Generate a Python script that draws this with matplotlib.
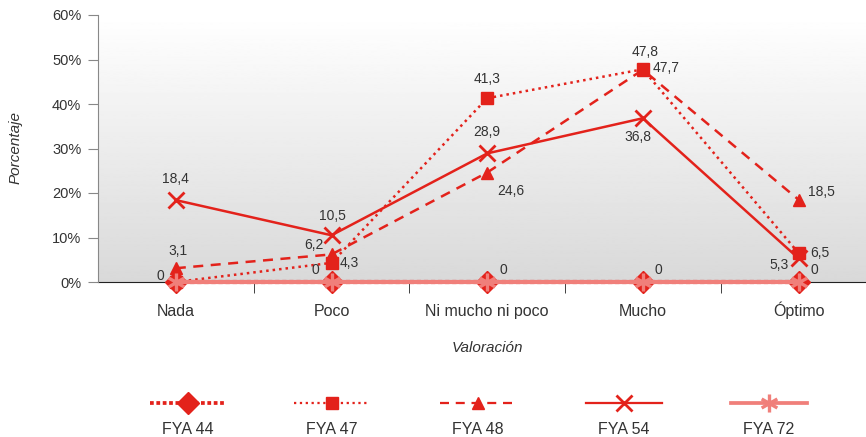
import numpy as np
import matplotlib
matplotlib.use("Agg")
import matplotlib.pyplot as plt
from matplotlib.lines import Line2D
from matplotlib.path import Path

plt.rcParams["font.family"] = ["Liberation Sans", "DejaVu Sans"]

categories = ["Nada", "Poco", "Ni mucho ni poco", "Mucho", "Óptimo"]
fya44 = [0, 0, 0, 0, 0]
fya47 = [0, 4.3, 41.3, 47.8, 6.5]
fya48 = [3.1, 6.2, 24.6, 47.7, 18.5]
fya54 = [18.4, 10.5, 28.9, 36.8, 5.3]
fya72 = [0, 0, 0, 0, 0]
series_names = ["FYA 44", "FYA 47", "FYA 48", "FYA 54", "FYA 72"]

RED = "#e3221b"
PINK = "#f07f7a"
TXT = "#333333"

# six-armed asterisk marker
ang = np.deg2rad([90, 30, 150])
verts, codes = [], []
for a in ang:
    verts += [(np.cos(a), np.sin(a)), (-np.cos(a), -np.sin(a))]
    codes += [Path.MOVETO, Path.LINETO]
ASTER = Path(verts, codes)

fig = plt.figure(figsize=(8.66, 4.37), dpi=100)
ax = fig.add_axes([98 / 866, 1 - 282 / 437, 1 - 98 / 866 + 0.012, (282 - 15) / 437])

x = np.arange(len(categories))

# gradient background
grad = np.linspace(0.85, 1.0, 256).reshape(-1, 1)
ax.imshow(grad, cmap="gray", vmin=0, vmax=1, aspect="auto", extent=[0, 1, 0, 1],
          transform=ax.transAxes, origin="lower", zorder=0)

styles = {
    "FYA 44": dict(color=RED, lw=3, ls=(0, (1, 0.7)), marker="D", ms=11),
    "FYA 47": dict(color=RED, lw=1.8, ls=(0, (1, 1.6)), marker="s", ms=8),
    "FYA 48": dict(color=RED, lw=1.8, ls=(0, (4, 3)), marker="^", ms=9),
    "FYA 54": dict(color=RED, lw=1.8, ls="-", marker="x", ms=11, mew=2),
    "FYA 72": dict(color=PINK, lw=3, ls="-", marker=ASTER, ms=13, mew=2.4),
}
data = {"FYA 44": fya44, "FYA 47": fya47, "FYA 48": fya48, "FYA 54": fya54, "FYA 72": fya72}

for i, name in enumerate(series_names):
    ax.plot(x, data[name], zorder=3 + i, clip_on=False, **styles[name])

# data labels: (series, index, dx px, dy px, ha, va)
labels = [
    (fya54, 0, 0, 14, "center", "bottom"),
    (fya48, 0, 2, 10, "center", "bottom"),
    (fya44, 0, -12, 6, "right", "center"),
    (fya54, 1, 1, 12, "center", "bottom"),
    (fya48, 1, -8, 9, "right", "center"),
    (fya44, 1, -12, 12, "right", "center"),
    (fya47, 1, 8, 0, "left", "center"),
    (fya54, 2, 0, 14, "center", "bottom"),
    (fya48, 2, 10, -18, "left", "center"),
    (fya47, 2, 0, 12, "center", "bottom"),
    (fya44, 2, 12, 12, "left", "center"),
    (fya47, 3, 2, 10, "center", "bottom"),
    (fya48, 3, 10, 2, "left", "center"),
    (fya54, 3, -5, -12, "center", "top"),
    (fya44, 3, 12, 12, "left", "center"),
    (fya48, 4, 9, 8, "left", "center"),
    (fya47, 4, 12, 0, "left", "center"),
    (fya54, 4, -10, -7, "right", "center"),
    (fya44, 4, 12, 12, "left", "center"),
]
for vals, i, dx, dy, ha, va in labels:
    txt = f"{vals[i]:g}".replace(".", ",")
    ax.annotate(txt, (x[i], vals[i]), xytext=(dx * 0.72, dy * 0.72), textcoords="offset points",
                ha=ha, va=va, fontsize=10, color=TXT, zorder=10)

ax.set_xlim(-0.5, 4.5)
ax.set_ylim(0, 60)
ax.set_yticks(range(0, 61, 10))
ax.set_yticklabels([f"{v}%" for v in range(0, 61, 10)])
ax.set_xticks(x)
ax.set_xticklabels(categories, va="baseline")
ax.set_xticks(x[:-1] + 0.5, minor=True)
ax.tick_params(axis="x", which="major", length=0, pad=24.5, labelsize=11.5, labelcolor=TXT)
ax.tick_params(axis="x", which="minor", length=8, color="#222222", direction="out")
ax.tick_params(axis="y", length=7, color="#888888", labelsize=10.5, labelcolor=TXT, pad=5)

for s in ["top", "right"]:
    ax.spines[s].set_visible(False)
ax.spines["left"].set_color("#888888")
ax.spines["bottom"].set_color("#222222")
ax.spines["bottom"].set_zorder(2)

ax.set_xlabel("Valoración", fontstyle="italic", fontsize=11, color=TXT, labelpad=16)
fig.text(16 / 866, 1 - 148 / 437, "Porcentaje", rotation=90, fontstyle="italic",
         fontsize=11, color=TXT, ha="center", va="center")

# legend below, handle above text
centers = [188, 332, 478, 624, 769]
for name, cx in zip(series_names, centers):
    st = dict(styles[name])
    ln = Line2D([(cx - 38) / 866, (cx + 38) / 866], [1 - 403 / 437] * 2,
                transform=fig.transFigure, color=st["color"], lw=st["lw"] * 0.9, ls=st["ls"])
    fig.add_artist(ln)
    mk = Line2D([cx / 866], [1 - 403 / 437], transform=fig.transFigure,
                color=st["color"], marker=st["marker"], ms=st["ms"], mew=st.get("mew", 1), ls="none")
    fig.add_artist(mk)
    fig.text(cx / 866, 1 - 429 / 437, name, ha="center", va="center", fontsize=11.5, color=TXT)

fig.savefig("out.png", dpi=100)
